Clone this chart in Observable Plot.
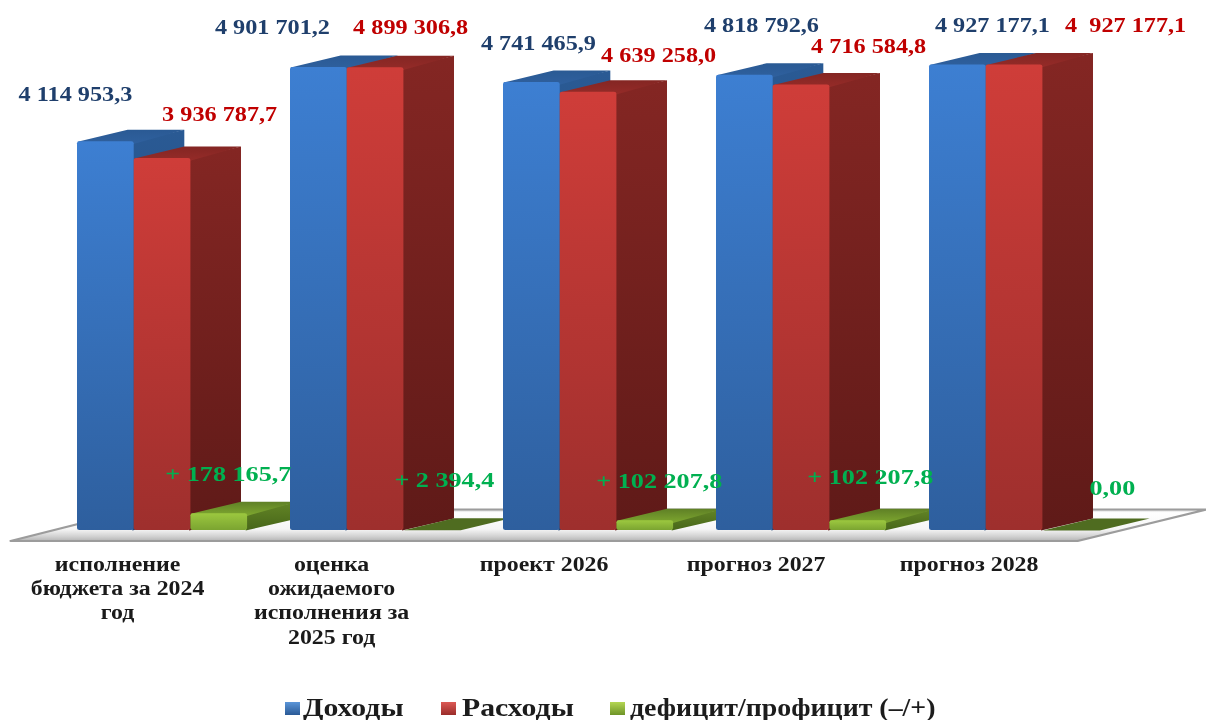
<!DOCTYPE html>
<html lang="ru">
<head>
<meta charset="utf-8">
<script src="https://cdn.jsdelivr.net/npm/d3@7"></script>
<script src="https://cdn.jsdelivr.net/npm/@observablehq/plot@0.6"></script>
<style>
  html, body { margin: 0; padding: 0; background: #fff; }
  #page { position: relative; width: 1206px; height: 720px; overflow: hidden; }
  svg text { white-space: pre; }
  #legend { position: absolute; left: 0; top: 680px; width: 1206px; height: 40px;
    font: bold 25px "Liberation Serif", serif; color: #1c1c1c; filter: blur(0.4px); }
  #legend .item { position: absolute; top: 13px; line-height: 30px; white-space: nowrap;
    transform-origin: left center; }
  #legend .key { position: absolute; top: 22px; width: 15px; height: 13px; }
</style>
</head>
<body>
<div id="page"></div>
<script>
// ---- data ----
const categories = ["исполнение\nбюджета за 2024\nгод", "оценка\nожидаемого\nисполнения за\n2025 год", "проект 2026", "прогноз 2027", "прогноз 2028"];
const income = [4114953.3, 4901701.2, 4741465.9, 4818792.6, 4927177.1];
const expense = [3936787.7, 4899306.8, 4639258.0, 4716584.8, 4927177.1];
const balance = [178165.7, 2394.4, 102207.8, 102207.8, 0];
const incomeLabels = ["4 114 953,3", "4 901 701,2", "4 741 465,9", "4 818 792,6", "4 927 177,1"];
const expenseLabels = ["3 936 787,7", "4 899 306,8", "4 639 258,0", "4 716 584,8", "4  927 177,1"];
const balanceLabels = ["+ 178 165,7", "+ 2 394,4", "+ 102 207,8", "+ 102 207,8", "0,00"];
const legendNames = ["Доходы", "Расходы", "дефицит/профицит (–/+)"];

// ---- layout ----
const stretch = 1.2;                // glyphs in the picture are 1.2x wider than tall
const screenW = 1206, H = 680, W = screenW / stretch;
const barPx = 56.7, pitchPx = 213, originPx = 77, baselinePx = 530;
const pxPerValue = 465.5 / 4927177.1;
const slotsW = screenW / barPx;
const origin = originPx / barPx, pitch = pitchPx / barPx;
const depthX = 50 / barPx, depthY = 12 / pxPerValue;   // 3D extrusion
const px = p => p / pxPerValue;     // vertical pixels to value units
const sl = p => p / barPx;          // horizontal pixels to slots
const serif = "Liberation Serif";

// label offsets from the top centre of each bar front, in screen pixels
const incomeOffsets = [[-30.5, -47.5], [-46.5, -40], [6.5, -39], [16.5, -50], [34.5, -39]];
const expenseOffsets = [[57, -44], [35, -40], [70, -37], [67, -38], [111, -39]];
const balanceOffsets = [[9, -40], [12, -50], [14, -40], [12, -44], [41, -42]];
const labelSizes = [20.2, 20.2, 21.8];
const categoryCentersPx = [117, 331, 543.5, 755.5, 968.5];

const styles = [
  {front: "blueFront", side: "blueSide", top: "blueTop", text: "#1f3f6c"},
  {front: "redFront", side: "redSide", top: "redTop", text: "#c00000"},
  {front: "greenFront", side: "greenSide", top: "greenTop", flat: "#4f6c20", text: "#00b050"}
];
const series = [income, expense, balance];

const poly = (points, fill, extra = {}) =>
  Plot.line(points, {x: "x", y: "y", fill, stroke: "none", curve: "linear-closed", ...extra});

function barMarks(v, g, s) {
  const st = styles[s];
  const l = origin + g * pitch + s, r = l + 1;
  const isFlat = v < px(1);
  const under = sl(2), below = px(2);   // faces tuck under the front to avoid seams
  const marks = [];
  if (!isFlat) {
    marks.push(poly([{x: r - under, y: 0}, {x: r + depthX, y: depthY}, {x: r + depthX, y: v + depthY}, {x: r - under, y: v}], `url(#${st.side})`));
  }
  marks.push(poly([{x: l + under, y: isFlat ? v : v - below}, {x: l, y: v}, {x: l + depthX, y: v + depthY}, {x: r + depthX, y: v + depthY}, {x: r, y: isFlat ? v : v - below}],
    isFlat ? st.flat : `url(#${st.top})`));
  if (!isFlat) {
    marks.push(Plot.rect([{l, r, v}], {x1: "l", x2: "r", y1: () => 0, y2: "v", fill: `url(#${st.front})`, rx: 2}));
  }
  return marks;
}

function labelMark(text, v, g, s, off) {
  const cx = origin + g * pitch + s + 0.5;
  return Plot.text([{cx, v, text}], {
    x: "cx", y: "v", text: "text", dx: off[0] / stretch, dy: off[1],
    fill: styles[s].text, fontFamily: serif, fontWeight: "bold", fontSize: labelSizes[s], lineAnchor: "middle"
  });
}

function gradient(id, stops) {
  return `<linearGradient id="${id}" x1="0" y1="0" x2="0" y2="1">` +
    stops.map(([o, c]) => `<stop offset="${o}" stop-color="${c}"/>`).join("") + `</linearGradient>`;
}
const defsMark = () => {
  const g = document.createElementNS("http://www.w3.org/2000/svg", "g");
  g.innerHTML = "<defs>" + [
    gradient("blueFront", [[0, "#3d7fd2"], [1, "#2e5f9e"]]),
    gradient("blueSide", [[0, "#2a5a94"], [1, "#1f4372"]]),
    gradient("blueTop", [[0, "#2a5a94"], [1, "#2f609e"]]),
    gradient("redFront", [[0, "#cf3d39"], [1, "#9e2f2d"]]),
    gradient("redSide", [[0, "#842623"], [1, "#5f1a18"]]),
    gradient("redTop", [[0, "#842623"], [1, "#952b28"]]),
    gradient("greenFront", [[0, "#9cc83f"], [1, "#7ba431"]]),
    gradient("greenSide", [[0, "#638526"], [1, "#476619"]]),
    gradient("greenTop", [[0, "#5f8026"], [1, "#7ea72f"]]),
    gradient("floorFace", [[0, "#cfcfcf"], [0.1, "#ffffff"], [0.62, "#f6f6f6"], [0.85, "#d2d2d2"], [1, "#b4b4b4"]])
  ].join("") + "</defs>";
  return g;
};

// floor slab, described by its overhang around the bars
const floorFront = -px(10.5), floorBack = px(21);
const floorPoints = [
  {x: sl(10), y: floorFront}, {x: sl(1077), y: floorFront},
  {x: sl(1206), y: floorBack}, {x: sl(135), y: floorBack}
];

const marks = [
  defsMark,
  poly(floorPoints, "url(#floorFace)", {stroke: "#9c9c9c", strokeWidth: 2}),
  ...categories.flatMap((_, g) => series.flatMap((arr, s) => barMarks(arr[g], g, s))),
  ...categories.flatMap((_, g) => [
    labelMark(incomeLabels[g], income[g], g, 0, incomeOffsets[g]),
    labelMark(expenseLabels[g], expense[g], g, 1, expenseOffsets[g]),
    labelMark(balanceLabels[g], balance[g], g, 2, balanceOffsets[g])
  ]),
  Plot.text(categories, {
    x: (_, i) => sl(categoryCentersPx[i]), y: () => 0, text: d => d,
    dy: 23, lineAnchor: "top", lineHeight: 24.3 / 19.9,
    fontFamily: serif, fontWeight: "bold", fontSize: 19.9, fill: "#1a1a1a"
  })
];

const chart = Plot.plot({
  width: W, height: H, margin: 0,
  x: {domain: [0, slotsW], range: [0, W], axis: null},
  y: {domain: [0, baselinePx / pxPerValue], range: [baselinePx, 0], axis: null},
  style: {width: screenW + "px", height: H + "px", maxWidth: "none", display: "block", background: "#fff", filter: "blur(0.4px)"},
  marks
});
chart.setAttribute("width", screenW);
chart.setAttribute("preserveAspectRatio", "none");
const page = document.getElementById("page");
page.appendChild(chart);

// legend below the SVG
const legendKeys = [
  {x: 285, text: 303, scale: 1.19, c: "linear-gradient(#5b95d8,#2a5a96)"},
  {x: 441, text: 462, scale: 1.19, c: "linear-gradient(#dc5a55,#9a2c2a)"},
  {x: 610, text: 630, scale: 1.115, c: "linear-gradient(#b4d653,#6e9428)"}
];
const legend = document.createElement("div");
legend.id = "legend";
legendNames.forEach((name, i) => {
  const k = document.createElement("div");
  k.className = "key";
  k.style.left = legendKeys[i].x + "px";
  k.style.background = legendKeys[i].c;
  legend.appendChild(k);
  const t = document.createElement("div");
  t.className = "item";
  t.style.left = legendKeys[i].text + "px";
  t.style.transform = `scaleX(${legendKeys[i].scale})`;
  t.textContent = name;
  legend.appendChild(t);
});
page.appendChild(legend);
</script>
</body>
</html>
